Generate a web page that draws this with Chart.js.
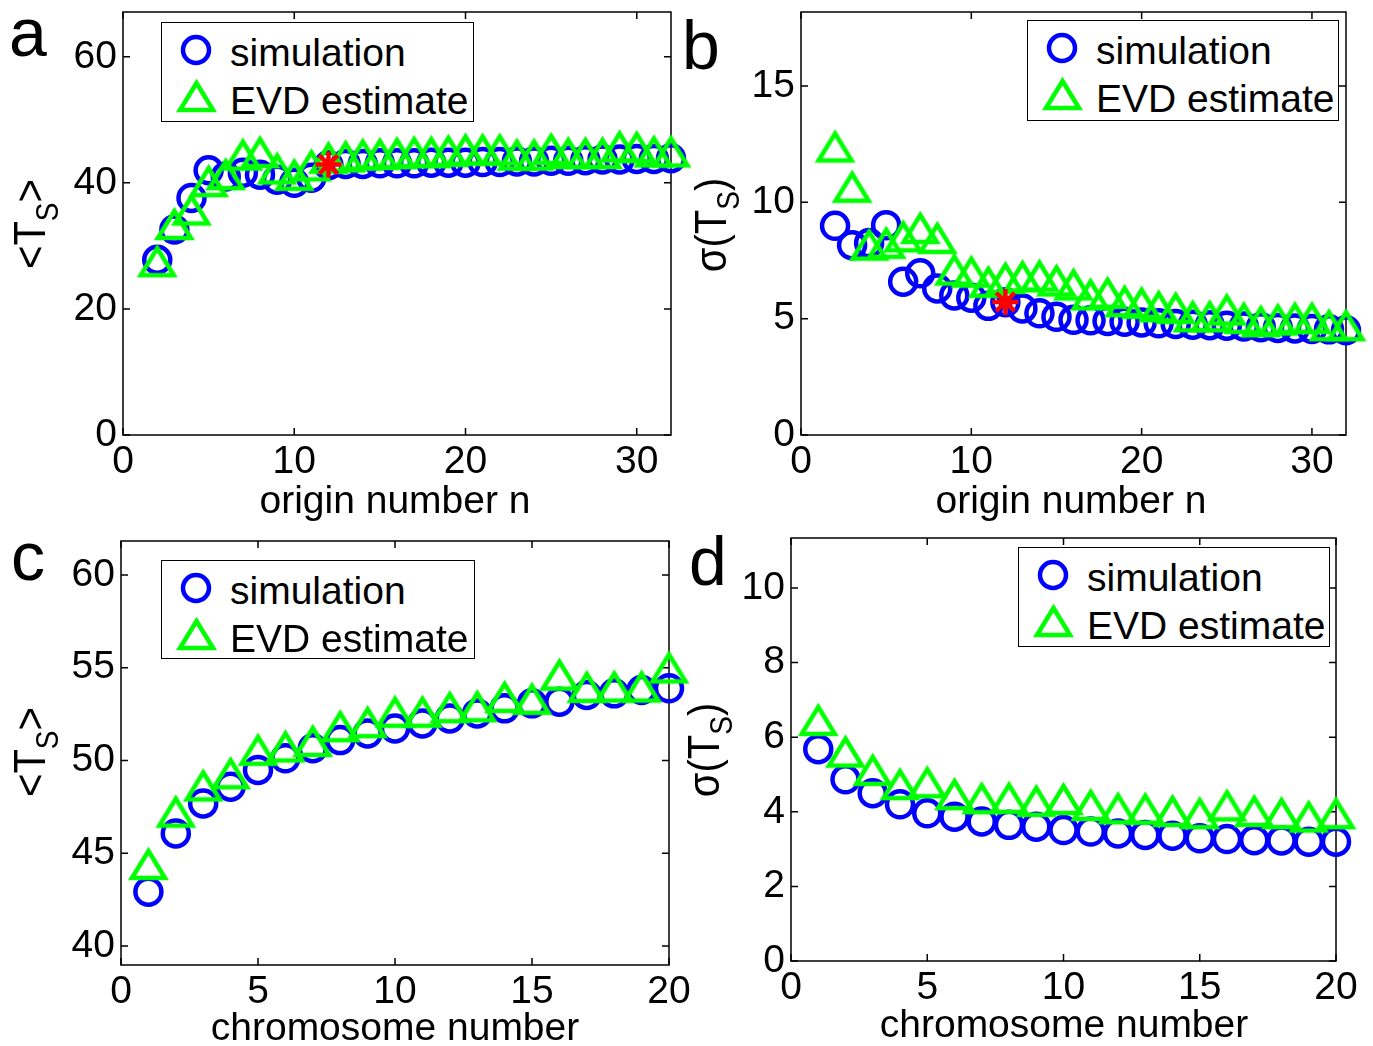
<!DOCTYPE html>
<html>
<head>
<meta charset="utf-8">
<script src="https://cdn.jsdelivr.net/npm/chart.js@4.4.0/dist/chart.umd.min.js"></script>
<style>
  body { margin: 0; background: #fff; width: 1373px; height: 1046px; position: relative; overflow: hidden;
         font-family: "Liberation Sans", Arial, sans-serif; color: #000; }
  canvas.panel { position: absolute; }
  .txt { position: absolute; white-space: nowrap; line-height: 1; font-size: 39px; }
  .letter { position: absolute; font-size: 68px; line-height: 1; }
  .ytitle { position: absolute; font-size: 40px; line-height: 1; white-space: nowrap;
            transform: translate(-50%, -50%) rotate(-90deg) scaleY(1.12); }
  .ytitle sub { font-size: 28px; vertical-align: baseline; position: relative; top: 12px; }
  .legend { position: absolute; border: 1.5px solid #000; box-sizing: border-box; background: #fff; }
  .mk { position: absolute; }
</style>
</head>
<body>
<canvas id="chartA" class="panel" width="700" height="520" style="left:0;top:0"></canvas>
<canvas id="chartB" class="panel" width="693" height="520" style="left:680px;top:0"></canvas>
<canvas id="chartC" class="panel" width="700" height="526" style="left:0;top:520px"></canvas>
<canvas id="chartD" class="panel" width="693" height="526" style="left:680px;top:520px"></canvas>

<script>
// origin number n (panels a, b)
const originN = [2, 3, 4, 5, 6, 7, 8, 9, 10, 11, 12, 13, 14, 15, 16, 17, 18, 19, 20,
                 21, 22, 23, 24, 25, 26, 27, 28, 29, 30, 31, 32];
const simMeanOrigin = [27.8, 32.6, 37.6, 42.0, 41.0, 41.6, 41.3, 40.5, 40.0, 40.8, 42.8,
                       43.0, 43.0, 43.1, 43.1, 43.1, 43.2, 43.2, 43.2, 43.3, 43.3,
                       43.4, 43.4, 43.5, 43.5, 43.6, 43.7, 43.7, 43.8, 43.8, 43.9];
const evdMeanOrigin = [27.5, 33.4, 35.7, 40.2, 41.3, 44.4, 44.8, 42.2, 41.2, 42.7, 43.9,
                       44.1, 44.4, 44.5, 44.65, 44.8, 44.8, 45.0, 45.2, 45.2, 45.2,
                       44.4, 44.4, 45.3, 44.65, 44.65, 44.65, 45.7, 45.6, 44.9, 44.9];
const simStdOrigin = [8.99, 8.16, 8.25, 9.02, 6.59, 6.95, 6.30, 6.0, 5.9, 5.55, 5.71,
                      5.44, 5.23, 5.08, 4.95, 4.93, 4.90, 4.87, 4.84, 4.80, 4.77,
                      4.74, 4.72, 4.70, 4.66, 4.63, 4.60, 4.58, 4.56, 4.54, 4.50];
const evdStdOrigin = [12.38, 10.65, 8.16, 8.24, 8.52, 8.88, 8.45, 7.09, 7.0, 6.56, 6.73,
                      6.8, 6.83, 6.62, 6.45, 6.02, 6.09, 5.73, 5.66, 5.51, 5.44,
                      5.08, 5.08, 5.37, 5.01, 4.87, 4.94, 5.01, 5.01, 4.70, 4.70];
// highlighted point (red star)
const starMean = { x: 12, y: 42.9 };
const starStd = { x: 12, y: 5.72 };

// chromosome number (panels c, d)
const chromN = [1, 2, 3, 4, 5, 6, 7, 8, 9, 10, 11, 12, 13, 14, 15, 16, 17, 18, 19, 20];
const simMeanChrom = [42.93, 46.07, 47.69, 48.59, 49.49, 50.12, 50.66, 51.1, 51.46, 51.73,
                      52.0, 52.27, 52.54, 52.81, 53.08, 53.17, 53.53, 53.62, 53.8, 53.89];
const evdMeanChrom = [44.4, 47.22, 48.63, 49.29, 50.55, 50.73, 51.03, 51.82, 52.04, 52.6,
                      52.6, 52.85, 52.9, 53.4, 53.3, 54.6, 53.94, 53.96, 53.96, 54.99];
const simStdChrom = [5.68, 4.87, 4.50, 4.20, 3.96, 3.87, 3.74, 3.65, 3.60, 3.51,
                     3.47, 3.42, 3.38, 3.36, 3.29, 3.27, 3.24, 3.23, 3.20, 3.20];
const evdStdChrom = [6.45, 5.6, 5.11, 4.73, 4.78, 4.46, 4.35, 4.36, 4.28, 4.33,
                     4.17, 4.08, 4.07, 4.01, 3.95, 4.16, 4.01, 3.95, 3.86, 3.95];

// tick labels
const originTicks = [0, 10, 20, 30];
const chromTicks = [0, 5, 10, 15, 20];
const meanOriginTicks = [0, 20, 40, 60];
const stdOriginTicks = [0, 5, 10, 15];
const meanChromTicks = [40, 45, 50, 55, 60];
const stdChromTicks = [0, 2, 4, 6, 8, 10];

const BLUE = "#0000ff";
const GREEN = "#00ff00";
const RED = "#ff0000";

function triangleMarker(color) {
    const w = 33, h = 27, lw = 4.5, pad = 7;
    const c = document.createElement("canvas");
    c.width = w + 2 * pad;
    c.height = h + 2 * pad;
    const g = c.getContext("2d");
    g.strokeStyle = color;
    g.lineWidth = lw;
    g.lineJoin = "miter";
    g.beginPath();
    g.moveTo(pad + w / 2, pad);
    g.lineTo(pad + w, pad + h);
    g.lineTo(pad, pad + h);
    g.closePath();
    g.stroke();
    return c;
}

function circleMarker(color) {
    const c = document.createElement("canvas");
    c.width = 36;
    c.height = 36;
    const g = c.getContext("2d");
    g.strokeStyle = color;
    g.lineWidth = 4.5;
    g.beginPath();
    g.arc(18, 18, 13, 0, Math.PI * 2);
    g.stroke();
    return c;
}

const triangle = triangleMarker(GREEN);

/*
 * axes box with inward ticks on all four sides
 */
const boxTicks = {
    id: "boxTicks",
    beforeDatasetsDraw(chart) {
        const { ctx, chartArea: a, scales: { x, y } } = chart;
        ctx.save();
        ctx.strokeStyle = "#000";
        ctx.lineWidth = 1.5;
        ctx.strokeRect(a.left, a.top, a.right - a.left, a.bottom - a.top);
        ctx.beginPath();
        x.ticks.forEach(t => {
            const px = x.getPixelForValue(t.value);
            ctx.moveTo(px, a.bottom); ctx.lineTo(px, a.bottom - 7);
            ctx.moveTo(px, a.top); ctx.lineTo(px, a.top + 7);
        });
        y.ticks.forEach(t => {
            const py = y.getPixelForValue(t.value);
            ctx.moveTo(a.left, py); ctx.lineTo(a.left + 7, py);
            ctx.moveTo(a.right, py); ctx.lineTo(a.right - 7, py);
        });
        ctx.stroke();
        ctx.restore();
    }
};

function points(xs, ys) {
    return xs.map((x, i) => ({ x: x, y: ys[i] }));
}

function makePanel(id, p) {
    const datasets = [
        {
            data: points(p.xs, p.sim),
            pointStyle: "circle",
            pointRadius: 13,
            pointBorderWidth: 4.5,
            pointBorderColor: BLUE,
            pointBackgroundColor: "rgba(0,0,0,0)",
            order: 3,
            clip: false
        },
        {
            data: points(p.xs, p.evd),
            pointStyle: triangle,
            pointRadius: 17,
            order: 2,
            clip: false
        }
    ];
    if (p.star) {
        datasets.push({
            data: [p.star],
            pointStyle: "star",
            pointRadius: 13,
            pointBorderWidth: 4.5,
            pointBorderColor: RED,
            order: 1,
            clip: false
        });
    }

    const tickFont = { family: "'Liberation Sans', Arial, sans-serif", size: 39 };

    return new Chart(document.getElementById(id), {
        type: "scatter",
        data: { datasets: datasets },
        options: {
            responsive: false,
            animation: false,
            events: [],
            layout: {
                autoPadding: false,
                padding: { top: p.padTop, right: p.padRight, bottom: 0, left: 0 }
            },
            plugins: { legend: { display: false }, tooltip: { enabled: false } },
            scales: {
                x: {
                    type: "linear",
                    min: p.xMin,
                    max: p.xMax,
                    grid: { display: false, drawTicks: false },
                    border: { display: false },
                    ticks: { color: "#000", font: tickFont, padding: 4, maxRotation: 0 },
                    afterBuildTicks: s => { s.ticks = p.xTicks.map(v => ({ value: v })); },
                    afterFit: s => {
                        s.height = p.xAxisH;
                        s.paddingLeft = 0;
                        s.paddingRight = 0;
                    }
                },
                y: {
                    type: "linear",
                    min: p.yMin,
                    max: p.yMax,
                    grid: { display: false, drawTicks: false },
                    border: { display: false },
                    ticks: { color: "#000", font: tickFont, padding: 6 },
                    afterBuildTicks: s => { s.ticks = p.yTicks.map(v => ({ value: v })); },
                    afterFit: s => {
                        s.width = p.yAxisW;
                        s.paddingTop = 0;
                        s.paddingBottom = 0;
                    }
                }
            }
        },
        plugins: [boxTicks]
    });
}

makePanel("chartA", {
    xs: originN, sim: simMeanOrigin, evd: evdMeanOrigin, star: starMean,
    xMin: 0, xMax: 32, yMin: 0, yMax: 67.1, xTicks: originTicks, yTicks: meanOriginTicks,
    padTop: 12, padRight: 29, yAxisW: 123, xAxisH: 85
});
makePanel("chartB", {
    xs: originN, sim: simStdOrigin, evd: evdStdOrigin, star: starStd,
    xMin: 0, xMax: 32, yMin: 0, yMax: 18.18, xTicks: originTicks, yTicks: stdOriginTicks,
    padTop: 12, padRight: 27, yAxisW: 121, xAxisH: 85
});
makePanel("chartC", {
    xs: chromN, sim: simMeanChrom, evd: evdMeanChrom,
    xMin: 0, xMax: 20, yMin: 38.98, yMax: 61.83, xTicks: chromTicks, yTicks: meanChromTicks,
    padTop: 21, padRight: 31, yAxisW: 121, xAxisH: 81
});
makePanel("chartD", {
    xs: chromN, sim: simStdChrom, evd: evdStdChrom,
    xMin: 0, xMax: 20, yMin: 0, yMax: 11.34, xTicks: chromTicks, yTicks: stdChromTicks,
    padTop: 18, padRight: 37, yAxisW: 111, xAxisH: 85
});

// text overlays: panel letters, axis titles, legends
function addText(cls, html, style) {
    const d = document.createElement("div");
    d.className = cls;
    d.innerHTML = html;
    Object.assign(d.style, style);
    document.body.appendChild(d);
    return d;
}

// baseline offset for 39px text with line-height 1
const BASE39 = 33;

addText("letter", "a", { left: "9px", top: "-2px" });
addText("letter", "b", { left: "682px", top: "11px" });
addText("letter", "c", { left: "11px", top: "522px" });
addText("letter", "d", { left: "689px", top: "527px" });

function xTitle(text, cx, baseline) {
    const d = addText("txt", text, { left: cx + "px", top: (baseline - BASE39) + "px" });
    d.style.transform = "translateX(-50%)";
}
xTitle("origin number n", 395, 513);
xTitle("origin number n", 1071, 513);
xTitle("chromosome number", 395, 1040);
xTitle("chromosome number", 1064, 1037);

function yTitle(html, baselineX, cy) {
    addText("ytitle", html, { left: (baselineX - 15) + "px", top: cy + "px" });
}
yTitle("&lt;T<sub>S</sub>&gt;", 44, 224);
yTitle("σ(T<sub>S</sub>)", 725, 225);
yTitle("&lt;T<sub>S</sub>&gt;", 44, 752);
yTitle("σ(T<sub>S</sub>)", 718, 750);

function legend(left, top, width, height) {
    addText("legend", "", { left: left + "px", top: top + "px", width: width + "px", height: height + "px" });
    const circ = circleMarker(BLUE);
    circ.className = "mk";
    circ.style.left = (left + 35 - circ.width / 2) + "px";
    circ.style.top = (top + 28 - circ.height / 2) + "px";
    document.body.appendChild(circ);
    const tri = triangleMarker(GREEN);
    tri.className = "mk";
    tri.style.left = (left + 35 - tri.width / 2) + "px";
    tri.style.top = (top + 74 - tri.height / 2) + "px";
    document.body.appendChild(tri);
    addText("txt", "simulation", { left: (left + 69) + "px", top: (top + 44 - BASE39) + "px" });
    addText("txt", "EVD estimate", { left: (left + 69) + "px", top: (top + 92 - BASE39) + "px" });
}
legend(161, 22, 313, 100);
legend(1027, 20, 312, 101);
legend(161, 560, 314, 99);
legend(1018, 547, 312, 100);
</script>
</body>
</html>
